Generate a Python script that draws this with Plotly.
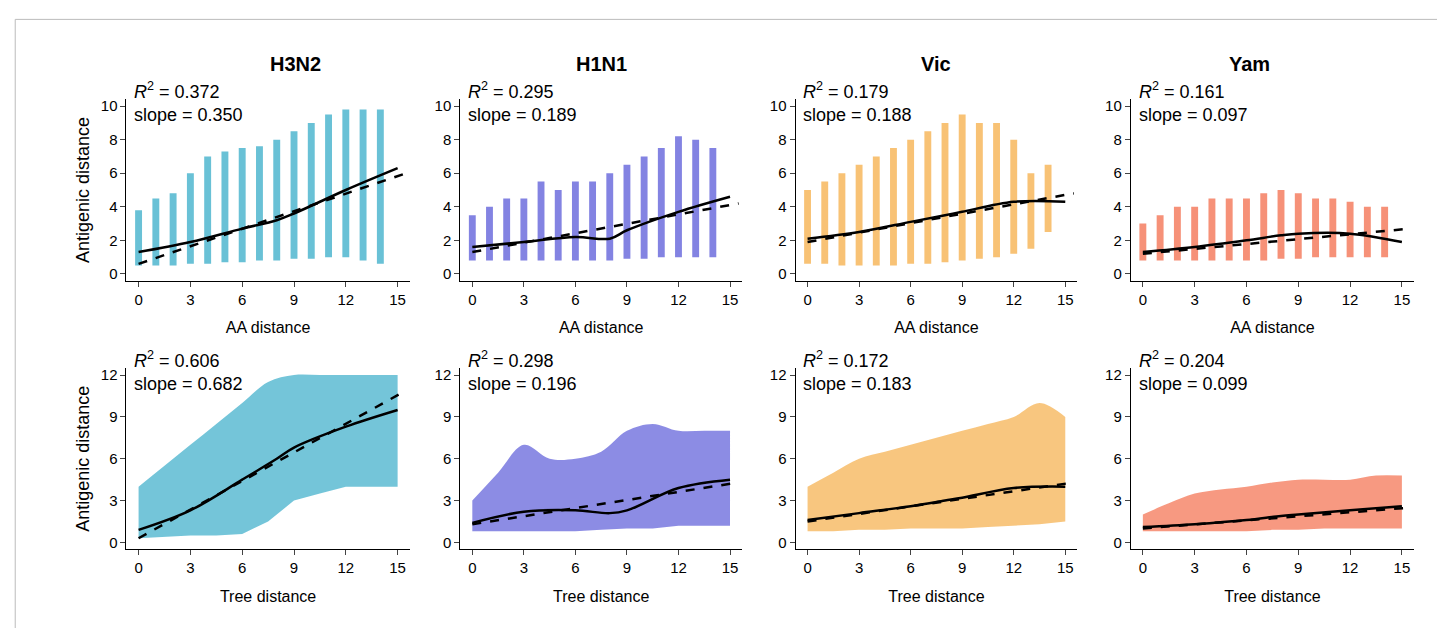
import plotly.graph_objects as go

strains = ["H3N2", "H1N1", "Vic", "Yam"]
colors = ["#2aa6c4", "#4f4fd6", "#f5a83a", "#f2633e"]
r2_top = ["0.372", "0.295", "0.179", "0.161"]
slope_top = ["0.350", "0.189", "0.188", "0.097"]
r2_bot = ["0.606", "0.298", "0.172", "0.204"]
slope_bot = ["0.682", "0.196", "0.183", "0.099"]

aa_x = list(range(15))
aa_min = [
    [0.5, 0.5, 0.5, 0.6, 0.6, 0.7, 0.7, 0.8, 0.8, 0.9, 0.9, 1.0, 1.0, 0.8, 0.6],
    [0.8, 0.8, 0.8, 0.8, 0.8, 0.8, 0.8, 0.8, 0.8, 0.9, 0.9, 1.0, 1.0, 1.0, 1.0],
    [0.6, 0.6, 0.5, 0.5, 0.5, 0.5, 0.6, 0.6, 0.7, 0.8, 0.9, 1.0, 1.2, 1.5, 2.5],
    [0.8, 0.8, 0.8, 0.8, 0.8, 0.8, 0.8, 0.8, 0.9, 0.9, 1.0, 1.0, 1.0, 1.0, 1.0],
]
aa_max = [
    [3.8, 4.5, 4.8, 6.0, 7.0, 7.3, 7.5, 7.6, 8.0, 8.5, 9.0, 9.5, 9.8, 9.8, 9.8],
    [3.5, 4.0, 4.5, 4.5, 5.5, 5.0, 5.5, 5.5, 6.0, 6.5, 7.0, 7.5, 8.2, 8.0, 7.5],
    [5.0, 5.5, 6.0, 6.5, 7.0, 7.5, 8.0, 8.5, 9.0, 9.5, 9.0, 9.0, 8.0, 6.0, 6.5],
    [3.0, 3.5, 4.0, 4.0, 4.5, 4.5, 4.5, 4.8, 5.0, 4.8, 4.5, 4.5, 4.3, 4.0, 4.0],
]
tree_x = [0, 1.5, 3, 4.5, 6, 7.5, 9, 10.5, 12, 13.5, 15]
tree_min = [
    [0.3, 0.4, 0.5, 0.5, 0.6, 1.5, 3.0, 3.5, 4.0, 4.0, 4.0],
    [0.8, 0.8, 0.8, 0.8, 0.8, 0.9, 1.0, 1.0, 1.2, 1.2, 1.2],
    [0.8, 0.8, 0.9, 0.9, 1.0, 1.0, 1.0, 1.1, 1.2, 1.3, 1.5],
    [0.8, 0.8, 0.8, 0.8, 0.8, 0.9, 0.9, 1.0, 1.0, 1.0, 1.0],
]
tree_max = [
    [4.0, 5.5, 7.0, 8.5, 10.0, 11.5, 12.0, 12.0, 12.0, 12.0, 12.0],
    [3.0, 5.0, 7.0, 6.0, 6.0, 6.5, 8.0, 8.5, 8.0, 8.0, 8.0],
    [4.0, 5.0, 6.0, 6.5, 7.0, 7.5, 8.0, 8.5, 9.0, 10.0, 9.0],
    [2.0, 2.8, 3.5, 3.8, 4.0, 4.3, 4.5, 4.5, 4.5, 4.8, 4.8],
]
loess_x = [0, 3, 6, 8, 9, 12, 15]
loess_top = [
    [1.3, 1.9, 2.7, 3.2, 3.6, 5.0, 6.3],
    [1.6, 1.9, 2.2, 2.1, 2.6, 3.7, 4.6],
    [2.1, 2.5, 3.1, 3.5, 3.7, 4.3, 4.3],
    [1.3, 1.6, 2.0, 2.3, 2.4, 2.4, 1.9],
]
loess_bot = [
    [0.9, 2.3, 4.5, 6.0, 6.8, 8.3, 9.5],
    [1.4, 2.2, 2.3, 2.1, 2.3, 3.9, 4.5],
    [1.6, 2.1, 2.6, 3.0, 3.2, 3.9, 4.0],
    [1.1, 1.3, 1.6, 1.9, 2.0, 2.3, 2.6],
]
reg_x = [0, 15.5]
reg_top = [[0.6, 6.0], [1.3, 4.2], [1.9, 4.8], [1.2, 2.7]]
reg_bot = [[0.3, 10.9], [1.3, 4.3], [1.5, 4.3], [1.0, 2.5]]

xdom = [[0.082, 0.278], [0.313, 0.508], [0.545, 0.740], [0.777, 0.973]]
ydom = [[0.567, 0.857], [0.137, 0.427]]

def rgba(h, a):
    return f"rgba({int(h[1:3],16)},{int(h[3:5],16)},{int(h[5:7],16)},{a})"

fig = go.Figure()
layout = {}
for row in range(2):
    for c in range(4):
        k = row * 4 + c + 1
        xa, ya = f"x{k}", f"y{k}"
        col = colors[c]
        if row == 0:
            fig.add_trace(go.Bar(x=aa_x, base=aa_min[c],
                                 y=[b - a for a, b in zip(aa_min[c], aa_max[c])],
                                 width=0.4, marker=dict(color=rgba(col, 0.7), line_width=0),
                                 xaxis=xa, yaxis=ya, showlegend=False))
            ly, ry = loess_top[c], reg_top[c]
        else:
            fig.add_trace(go.Scatter(x=tree_x, y=tree_min[c], mode="lines", line=dict(width=0),
                                     xaxis=xa, yaxis=ya, showlegend=False))
            fig.add_trace(go.Scatter(x=tree_x, y=tree_max[c], mode="lines", line=dict(width=0, shape="spline"),
                                     fill="tonexty", fillcolor=rgba(col, 0.65),
                                     xaxis=xa, yaxis=ya, showlegend=False))
            ly, ry = loess_bot[c], reg_bot[c]
        fig.add_trace(go.Scatter(x=loess_x, y=ly, mode="lines", line=dict(color="black", width=2.5, shape="spline"),
                                 xaxis=xa, yaxis=ya, showlegend=False))
        fig.add_trace(go.Scatter(x=reg_x, y=ry, mode="lines", line=dict(color="black", width=2.5, dash="dash"),
                                 xaxis=xa, yaxis=ya, showlegend=False))
        sfx = "" if k == 1 else str(k)
        layout["xaxis" + sfx] = dict(domain=xdom[c], anchor=ya, range=[-0.7, 15.7],
                                     tickvals=[0, 3, 6, 9, 12, 15], showline=True, linecolor="black",
                                     ticks="outside", showgrid=False, zeroline=False,
                                     tickfont=dict(size=15, color="black"),
                                     title=dict(text="AA distance" if row == 0 else "Tree distance",
                                                font=dict(size=16, color="black")))
        layout["yaxis" + sfx] = dict(domain=ydom[row], anchor=xa,
                                     range=[-0.4, 10.4] if row == 0 else [-0.5, 12.5],
                                     tickvals=[0, 2, 4, 6, 8, 10] if row == 0 else [0, 3, 6, 9, 12],
                                     showline=True, linecolor="black", ticks="outside",
                                     showgrid=False, zeroline=False,
                                     tickfont=dict(size=15, color="black"),
                                     title=dict(text="Antigenic distance" if c == 0 else "",
                                                font=dict(size=18, color="black"), standoff=6))
        r2 = r2_top[c] if row == 0 else r2_bot[c]
        sl = slope_top[c] if row == 0 else slope_bot[c]
        fig.add_annotation(xref="paper", yref="paper", x=xdom[c][0] + 0.004, y=ydom[row][1] + 0.035,
                           xanchor="left", yanchor="top", align="left", showarrow=False,
                           text=f"<i>R</i><sup>2</sup> = {r2}<br>slope = {sl}",
                           font=dict(size=18, color="black"))
for c in range(4):
    fig.add_annotation(xref="paper", yref="paper", x=(xdom[c][0] + xdom[c][1]) / 2, y=0.935,
                       showarrow=False, text=f"<b>{strains[c]}</b>", font=dict(size=20, color="black"))

fig.update_layout(**layout, width=1445, height=628, margin=dict(l=0, r=0, t=0, b=0),
                  plot_bgcolor="white", paper_bgcolor="white", barmode="overlay",
                  font=dict(family="Liberation Sans, Arial, sans-serif"),
                  shapes=[dict(type="rect", xref="paper", yref="paper", x0=0.005, y0=0.005, x1=0.995, y1=0.985,
                               line=dict(color="#bbbbbb", width=1))])
fig.write_html("out.html")
